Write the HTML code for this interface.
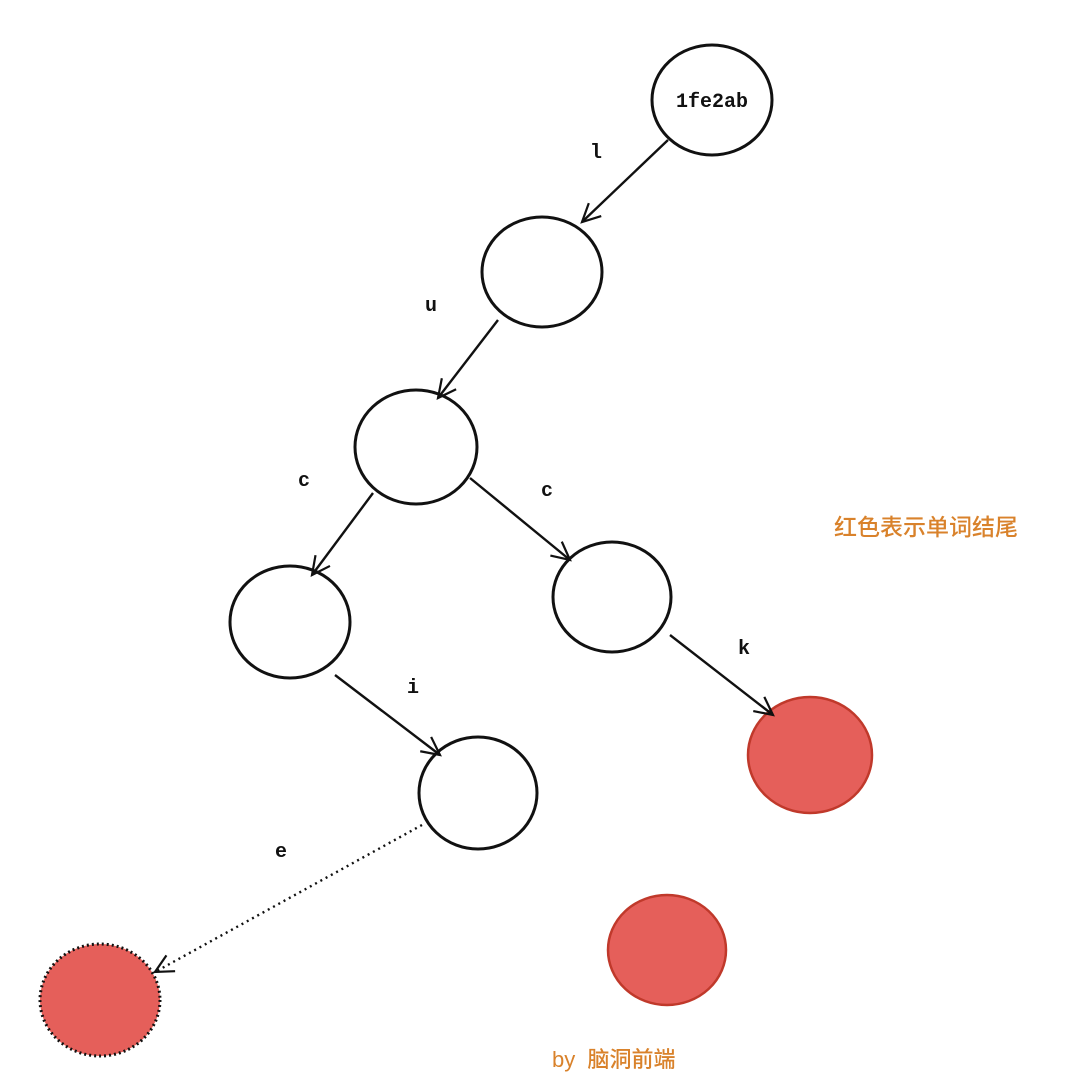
<!DOCTYPE html>
<html><head><meta charset="utf-8"><style>
html,body{margin:0;padding:0;background:#fff;}
svg{display:block;}
.lbl{font-family:"Liberation Mono",monospace;font-weight:bold;font-size:20px;fill:#111;}
.cn{font-family:"Liberation Sans","Noto Sans CJK SC",sans-serif;font-size:23px;fill:#d9822b;font-weight:500;}
</style></head><body>
<svg width="1080" height="1089" viewBox="0 0 1080 1089" xmlns="http://www.w3.org/2000/svg">
<defs>
<marker id="a" markerWidth="24" markerHeight="24" refX="20" refY="10" orient="auto" markerUnits="userSpaceOnUse">
<path d="M2,1 L20,10 L2,19" fill="none" stroke="#111" stroke-width="2.2"/>
</marker>
</defs>
<g fill="#fff" stroke="#111" stroke-width="3">
<ellipse cx="712" cy="100" rx="60" ry="55"/>
<ellipse cx="542" cy="272" rx="60" ry="55"/>
<ellipse cx="416" cy="447" rx="61" ry="57"/>
<ellipse cx="290" cy="622" rx="60" ry="56"/>
<ellipse cx="612" cy="597" rx="59" ry="55"/>
<ellipse cx="478" cy="793" rx="59" ry="56"/>
</g>
<g fill="#e55f5a" stroke="#c0392b" stroke-width="2.5">
<ellipse cx="810" cy="755" rx="62" ry="58"/>
<ellipse cx="667" cy="950" rx="59" ry="55"/>
</g>
<ellipse cx="100" cy="1000" rx="60" ry="56" fill="#e55f5a" stroke="#111" stroke-width="3" stroke-dasharray="2 3"/>
<g stroke="#111" stroke-width="2.4" fill="none" marker-end="url(#a)">
<line x1="668" y1="140" x2="582" y2="222"/>
<line x1="498" y1="320" x2="438" y2="398"/>
<line x1="373" y1="493" x2="312" y2="575"/>
<line x1="470" y1="478" x2="570" y2="560"/>
<line x1="670" y1="635" x2="773" y2="715"/>
<line x1="335" y1="675" x2="440" y2="755"/>
<line x1="422" y1="825" x2="155" y2="972" stroke-dasharray="2 4"/>
</g>
<text x="712" y="107" text-anchor="middle" class="lbl">1fe2ab</text>
<text x="596" y="158" text-anchor="middle" class="lbl">l</text>
<text x="431" y="311" text-anchor="middle" class="lbl">u</text>
<text x="304" y="486" text-anchor="middle" class="lbl">c</text>
<text x="547" y="496" text-anchor="middle" class="lbl">c</text>
<text x="744" y="654" text-anchor="middle" class="lbl">k</text>
<text x="413" y="693" text-anchor="middle" class="lbl">i</text>
<text x="281" y="857" text-anchor="middle" class="lbl">e</text>
<text x="834" y="535" class="cn">红色表示单词结尾</text>
<text x="552" y="1067" class="cn" style="font-size:22px" xml:space="preserve">by  脑洞前端</text>
</svg>
</body></html>
